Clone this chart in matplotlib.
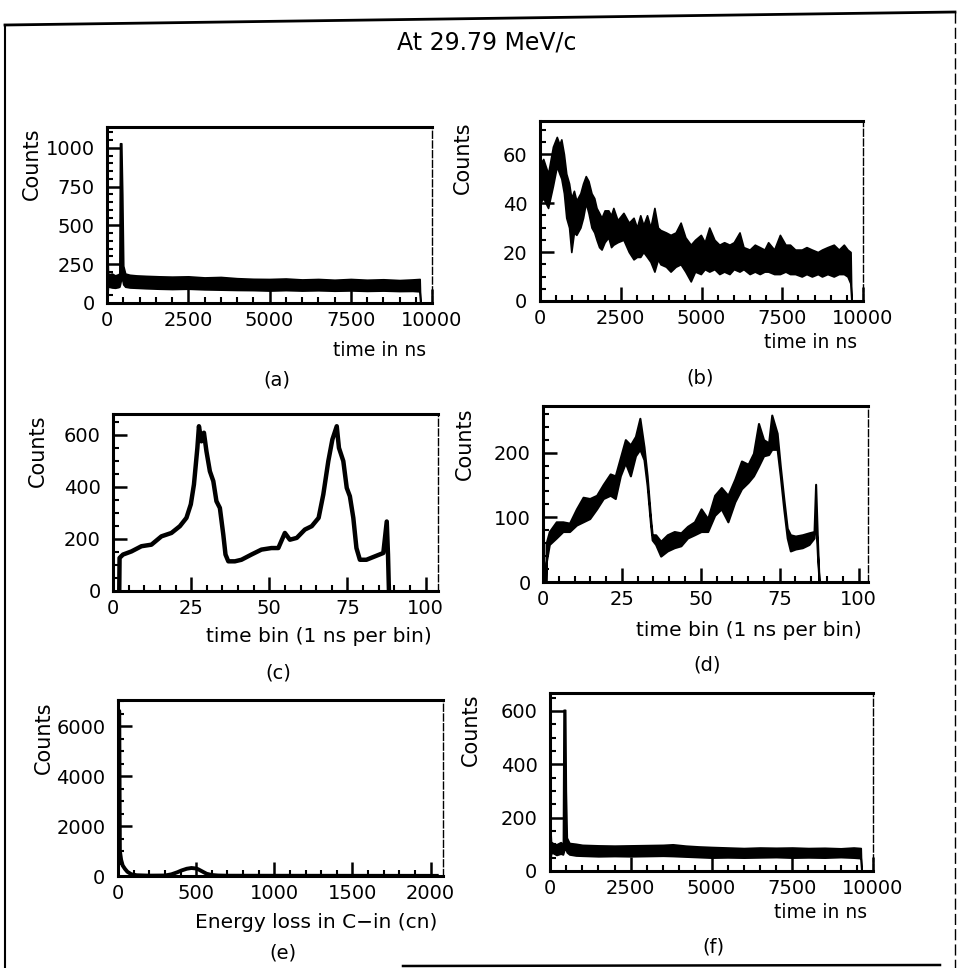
import matplotlib.pyplot as plt
from matplotlib.lines import Line2D
from matplotlib.ticker import MultipleLocator

plt.rcParams['font.family'] = ['DejaVu Sans']
plt.rcParams['font.size'] = 13

# ---- data ----
# (a) time spectrum, full range
a_t = [0, 30, 60, 150, 250, 340, 380, 400, 440, 470, 500, 560, 700, 900, 1200, 1600, 2000, 2500,
       3000, 3500, 4000, 4500, 5000, 5500, 6000, 6500, 7000, 7500, 8000, 8500, 9000, 9400, 9620, 9640]
a_hi = [440, 195, 185, 190, 178, 185, 190, 1030, 1030, 700, 240, 190, 182, 178, 175, 172, 170, 172,
        165, 168, 160, 156, 155, 158, 152, 155, 150, 155, 150, 153, 148, 152, 155, 0]
a_lo = [0, 110, 105, 100, 98, 102, 105, 120, 160, 150, 120, 105, 100, 98, 95, 92, 90, 92,
        88, 86, 84, 83, 80, 83, 80, 82, 79, 81, 78, 80, 77, 78, 75, 0]

# (b) time spectrum, second counter
b_t = [0, 100, 250, 400, 520, 600, 660, 740, 813, 900, 969, 1050, 1125, 1250, 1333, 1417, 1500, 1594,
       1680, 1750, 1830, 1906, 2000, 2115, 2200, 2271, 2400, 2583, 2750, 2896, 3000, 3104, 3200, 3313,
       3420, 3542, 3650, 3729, 3900, 4042, 4200, 4354, 4500, 4667, 4800, 4979, 5100, 5240, 5400, 5552,
       5700, 5865, 6000, 6177, 6300, 6490, 6650, 6802, 6950, 7063, 7250, 7427, 7600, 7740, 7900, 8104,
       8250, 8417, 8600, 8729, 8900, 9094, 9250, 9406, 9520, 9615, 9640]
b_hi = [56, 58, 52, 63, 67, 64, 66, 60, 52, 48, 42, 45, 41, 44, 48, 51, 49, 44,
        42, 38, 36, 34, 37, 37, 35, 38, 33, 36, 32, 34, 30, 35, 31, 35,
        30, 38, 30, 29, 28, 27, 28, 32, 26, 23, 25, 27, 24, 30, 25, 23,
        24, 23, 24, 28, 22, 21, 23, 22, 21, 24, 21, 27, 23, 23, 21, 21,
        22, 21, 20, 21, 22, 23, 21, 23, 21, 20, 0]
b_lo = [40, 42, 38, 47, 55, 52, 50, 44, 34, 30, 20, 28, 27, 30, 34, 40, 36, 30,
        28, 25, 22, 21, 24, 26, 22, 23, 24, 25, 20, 17, 18, 18, 20, 18,
        16, 12, 17, 15, 14, 12, 14, 15, 12, 8, 12, 11, 13, 12, 13, 11,
        12, 11, 13, 12, 13, 11, 12, 11, 12, 12, 11, 11, 12, 11, 11, 10,
        11, 10, 11, 10, 11, 10, 11, 11, 10, 7, 0]

# (c) time bin spectrum (1 ns per bin)
c_t = [2.0, 2.1, 3.2, 5.9, 9.1, 12.3, 15.5, 18.7, 21.4, 23.5, 24.9, 25.9, 27.0, 27.5, 28.3, 29.1,
       29.9, 31.0, 32.1, 33.1, 34.2, 35.3, 36.0, 36.9, 39.0, 41.1, 44.3, 47.5, 50.7, 52.9, 55.0,
       56.6, 58.8, 61.4, 63.6, 65.8, 67.3, 68.9, 70.2, 71.6, 72.3, 73.7, 74.8, 75.8, 76.9, 77.9,
       79.0, 81.1, 83.8, 86.5, 87.6, 88.0, 88.3]
c_y = [0, 127, 140, 152, 172, 178, 210, 223, 249, 281, 333, 409, 550, 633, 575, 608,
       537, 460, 422, 345, 319, 216, 140, 114, 114, 120, 140, 159, 165, 165, 223,
       197, 204, 236, 249, 281, 371, 499, 582, 633, 550, 499, 396, 364, 281, 165,
       120, 120, 133, 146, 267, 140, 0]

# (d) time bin spectrum, second counter
d_t = [0.9, 1.0, 2.0, 4.2, 6.3, 8.4, 10.6, 12.7, 14.8, 17, 19.1, 21.3, 22.9, 24.5, 26.1, 27.7,
       29.3, 30.7, 32, 33, 34.1, 34.6, 35.7, 37.3, 39.4, 41.6, 43.7, 45.8, 48, 50.1, 52.2, 54.4,
       56.5, 58.6, 60.8, 62.9, 65, 66.7, 68.3, 69.9, 71.5, 72.5, 74.2, 75.2, 76.3, 77.4, 78.4, 80,
       82.2, 84.3, 85.9, 86.4, 87, 87.5]
d_hi = [0, 60, 78, 93, 93, 91, 113, 131, 129, 134, 151, 167, 164, 192, 220, 212,
        225, 253, 209, 164, 98, 73, 73, 63, 73, 78, 76, 86, 93, 113, 98, 134,
        146, 134, 159, 187, 182, 199, 245, 220, 215, 258, 230, 179, 129, 83, 73, 71,
        73, 76, 78, 151, 60, 0]
d_lo = [0, 30, 58, 68, 78, 78, 88, 93, 98, 113, 129, 134, 129, 164, 184, 164,
        195, 205, 189, 149, 88, 65, 58, 40, 48, 53, 56, 68, 73, 78, 78, 103,
        113, 93, 124, 144, 154, 164, 179, 195, 197, 205, 205, 164, 113, 68, 48, 51,
        53, 58, 68, 100, 40, 0]

# (e) energy loss in C-in
e_x = [0, 8, 12, 20, 30, 45, 60, 85, 120, 200, 300, 342, 380, 406, 440, 470, 500, 513,
       540, 567, 600, 640, 700, 1000, 1500, 2040]
e_y = [6600, 6600, 1000, 650, 420, 280, 170, 70, 30, 15, 20, 67, 150, 220, 290, 320, 300, 270,
       180, 90, 40, 20, 12, 10, 8, 6]

# (f) time spectrum, third counter
f_t = [0, 30, 80, 200, 330, 400, 420, 470, 490, 520, 600, 800, 1000, 1500, 2000, 2500, 3000,
       3500, 3800, 4200, 4600, 5000, 5500, 6000, 6500, 7000, 7500, 8000, 8500, 9000, 9400, 9620, 9640]
f_hi = [190, 110, 105, 100, 108, 100, 604, 604, 300, 125, 105, 102, 98, 96, 95, 96, 97,
        98, 100, 95, 92, 90, 88, 86, 88, 87, 88, 86, 87, 85, 88, 86, 0]
f_lo = [0, 65, 68, 60, 65, 62, 70, 90, 80, 70, 62, 58, 57, 55, 56, 55, 56,
        57, 56, 54, 52, 50, 51, 50, 51, 52, 50, 51, 50, 52, 50, 48, 0]

W, H = 960, 968
fig = plt.figure(figsize=(9.6, 9.68), dpi=100)
fig.patch.set_facecolor('white')


def px(x, y):
    return x / W, 1 - y / H


def make_axes(box, xlim, ylim, xmaj, xmin, ymaj, ymin):
    l, t, r, b = box
    ax = fig.add_axes([l / W, 1 - b / H, (r - l) / W, (b - t) / H])
    ax.set_xlim(*xlim)
    ax.set_ylim(*ylim)
    ax.xaxis.set_major_locator(MultipleLocator(xmaj))
    ax.xaxis.set_minor_locator(MultipleLocator(xmin))
    ax.yaxis.set_major_locator(MultipleLocator(ymaj))
    ax.yaxis.set_minor_locator(MultipleLocator(ymin))
    ax.tick_params(which='both', direction='in', top=False, right=False, colors='black')
    ax.tick_params(which='major', length=10, width=1.8, labelsize=14)
    ax.tick_params(which='minor', length=4.5, width=1.5)
    ax.tick_params(axis='x', which='major', pad=6)
    ax.tick_params(axis='y', which='major', pad=9)
    for side in ['left', 'bottom', 'top']:
        ax.spines[side].set_linewidth(2.2)
    ax.spines['right'].set_linewidth(1.0)
    ax.spines['right'].set_linestyle((0, (5, 2)))
    return ax


def labels(ax_box, xlabel, xlab_y, tag, tag_xy, counts_x, xsize=14):
    l, t, r, b = ax_box
    fig.text(*px(r - 6, xlab_y), xlabel, ha='right', va='center', fontsize=xsize)
    fig.text(*px(*tag_xy), tag, ha='center', va='center', fontsize=14)
    fig.text(*px(counts_x, t + 1), 'Counts', rotation=90, ha='center', va='top', fontsize=15)


# (a)
box_a = (107, 127, 432, 303)
ax = make_axes(box_a, (0, 10000), (0, 1135), 2500, 500, 250, 50)
ax.fill_between(a_t, a_lo, a_hi, color='black', lw=1.2)
labels(box_a, 'time in ns', 350, '(a)', (277, 380), 32, 13.5)

# (b)
box_b = (540, 121, 863, 301)
ax = make_axes(box_b, (0, 10000), (0, 73.5), 2500, 500, 20, 5)
ax.fill_between(b_t, b_lo, b_hi, color='black', lw=1.2)
labels(box_b, 'time in ns', 343, '(b)', (700, 378), 463, 13.5)

# (c)
box_c = (113, 414, 438, 591)
ax = make_axes(box_c, (0, 104), (0, 680), 25, 5, 200, 50)
ax.plot(c_t, c_y, color='black', lw=3.2)
labels(box_c, 'time bin (1 ns per bin)', 637, '(c)', (278, 673), 38, 14.5)

# (d)
box_d = (543, 406, 868, 582)
ax = make_axes(box_d, (0, 103), (0, 272), 25, 5, 100, 20)
ax.fill_between(d_t, d_lo, d_hi, color='black', lw=1.5)
labels(box_d, 'time bin (1 ns per bin)', 630, '(d)', (707, 665), 465, 14.5)

# (e)
box_e = (118, 700, 443, 876)
ax = make_axes(box_e, (0, 2080), (0, 7040), 500, 100, 2000, 500)
ax.plot(e_x, e_y, color='black', lw=2.8)
labels(box_e, 'Energy loss in C\u2212in (cn)', 923, '(e)', (283, 953), 44, 14.5)

# (f)
box_f = (550, 693, 873, 871)
ax = make_axes(box_f, (0, 10000), (0, 667), 2500, 500, 200, 50)
ax.fill_between(f_t, f_lo, f_hi, color='black', lw=1.2)
labels(box_f, 'time in ns', 913, '(f)', (713, 947), 471, 13.5)

# title and scanned page border
fig.text(*px(487, 43), 'At 29.79 MeV/c', ha='center', va='center', fontsize=17)
border = [((5, 25), (955, 12), '-', 2.0),
          ((5, 25), (5, 968), '-', 1.5),
          ((955, 12), (955, 968), (0, (8, 3)), 1.0),
          ((403, 966), (940, 965), '-', 1.8)]
for (x0, y0), (x1, y1), ls, lw in border:
    fig.add_artist(Line2D([x0 / W, x1 / W], [1 - y0 / H, 1 - y1 / H], color='black',
                          linestyle=ls, linewidth=lw, transform=fig.transFigure))

fig.savefig('out.png', dpi=100)
